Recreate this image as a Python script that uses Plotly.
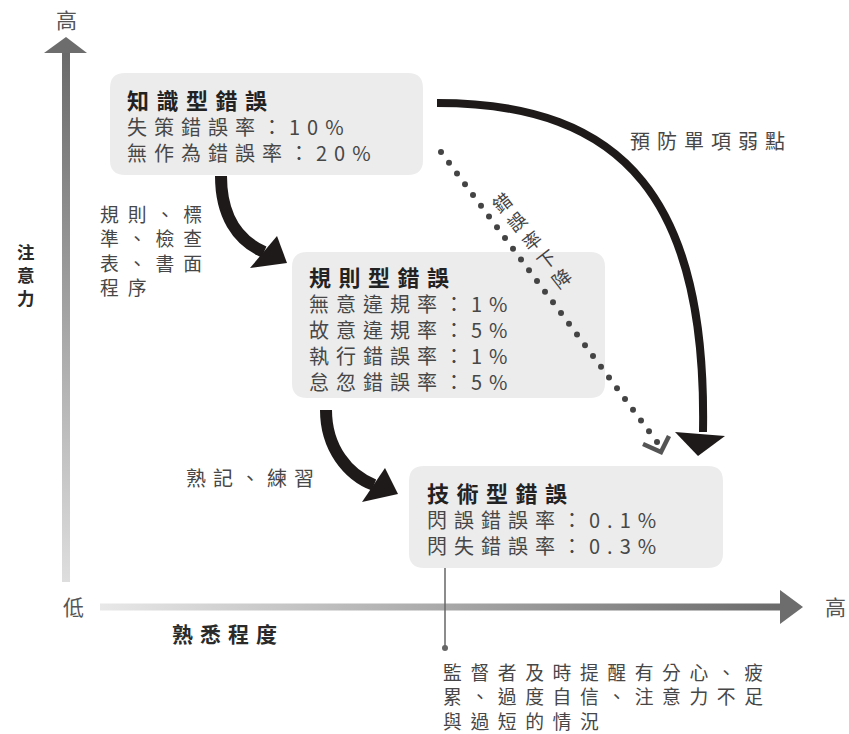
import plotly.graph_objects as go
import numpy as np

W, H = 849, 734
FONT = "Noto Sans CJK TC"

# ---------------- content ----------------
y_axis_label = ["注", "意", "力"]
x_axis_label = "熟悉程度"
low_label = "低"
high_label = "高"

box_titles = ["知識型錯誤", "規則型錯誤", "技術型錯誤"]
box1_lines = ["失策錯誤率：10%", "無作為錯誤率：20%"]
box2_lines = ["無意違規率：1%", "故意違規率：5%", "執行錯誤率：1%", "怠忽錯誤率：5%"]
box3_lines = ["閃誤錯誤率：0.1%", "閃失錯誤率：0.3%"]

rule_lines = ["規則、標", "準、檢查", "表、書面", "程序"]
practice_label = "熟記、練習"
prevent_label = "預防單項弱點"
decline_label = "錯誤率下降"
note_lines = ["監督者及時提醒有分心、疲", "累、過度自信、注意力不足", "與過短的情況"]

# ---------------- layout geometry ----------------
boxes = [(110, 73, 423, 175), (292, 252, 605, 398), (409, 466, 723, 568)]
box_text_x = [125, 307, 425]
box_title_y = [99, 276, 492]

shapes = []
annotations = []
fig = go.Figure()


def rrect(x0, y0, x1, y1, r=15):
    return (f"M{x0+r},{y0} L{x1-r},{y0} Q{x1},{y0} {x1},{y0+r} "
            f"L{x1},{y1-r} Q{x1},{y1} {x1-r},{y1} L{x0+r},{y1} "
            f"Q{x0},{y1} {x0},{y1-r} L{x0},{y0+r} Q{x0},{y0} {x0+r},{y0} Z")


def sp(s, spacing):
    return f'<span style="letter-spacing:{spacing}px">{s}</span>' if spacing else s


def txt(x, y, s, size=20, color="#474747", bold=False, spacing=7,
        anchor="left", angle=0):
    annotations.append(dict(
        x=x, y=y, xref="x", yref="y", text=sp(s, spacing), showarrow=False,
        xanchor=anchor, yanchor="middle", textangle=angle, align="left",
        font=dict(family=FONT, size=size, color=color,
                  weight=700 if bold else 400)))


def block(x, y_first, lines, size=20, color="#474747", bold=False,
          anchor="left", angle=0, cx=None, cy=None):
    pitch = 1.3 * size
    yc = y_first + (len(lines) - 1) * pitch / 2
    annotations.append(dict(
        x=x if cx is None else cx, y=yc if cy is None else cy,
        xref="x", yref="y", text="<br>".join(lines), showarrow=False,
        xanchor=anchor, yanchor="middle", align="left", textangle=angle,
        font=dict(family=FONT, size=size, color=color,
                  weight=700 if bold else 400)))


def poly(path, color):
    shapes.append(dict(type="path", path=path, xref="x", yref="y",
                       fillcolor=color, line=dict(width=0)))


def stroke(path, color, width):
    shapes.append(dict(type="path", path=path, xref="x", yref="y",
                       line=dict(color=color, width=width)))


# boxes
for (x0, y0, x1, y1) in boxes:
    shapes.append(dict(type="path", path=rrect(x0, y0, x1, y1), xref="x",
                       yref="y", fillcolor="#ececec", line=dict(width=0),
                       layer="below"))

all_lines = [box1_lines, box2_lines, box3_lines]
for i in range(3):
    title = (f'<b><span style="font-size:22px;letter-spacing:7.5px;'
             f'color:#222222">{box_titles[i]}</span></b>')
    lines = [title] + [sp(s, 7) for s in all_lines[i]]
    block(box_text_x[i], box_title_y[i], lines)

# axes with gradients
fig.add_trace(go.Scatter(
    x=[62, 70, 70, 62, 62], y=[53, 53, 582, 582, 53], mode="lines",
    fill="toself", line=dict(width=0), hoverinfo="skip", showlegend=False,
    fillgradient=dict(type="vertical", start=53, stop=582,
                      colorscale=[[0, "#6a6a6a"], [1, "#dedede"]])))
fig.add_trace(go.Scatter(
    x=[100, 781, 781, 100, 100], y=[603.5, 603.5, 610.5, 610.5, 603.5],
    mode="lines", fill="toself", line=dict(width=0), hoverinfo="skip",
    showlegend=False,
    fillgradient=dict(type="horizontal", start=100, stop=781,
                      colorscale=[[0, "#e8e8e8"], [1, "#6a6a6a"]])))
poly("M66,37 L44,53 L87,53 Z", "#6d6d6d")
poly("M803,607 L780,590 L780,624 Z", "#6d6d6d")

txt(66, 19, high_label, size=21, color="#555555", spacing=0, anchor="center")
txt(73, 606, low_label, size=21, color="#555555", spacing=0, anchor="center")
txt(835, 606, high_label, size=21, color="#555555", spacing=0, anchor="center")
block(26, 252, y_axis_label, size=17.5, color="#2a2a2a", bold=True,
      anchor="center")
txt(170, 633, x_axis_label, size=21, color="#2a2a2a", bold=True, spacing=7)

# big curved arrow
stroke("M437,103 C626,103 707,202 703,432", "#1e1a1a", 8)
poly("M675,432 L725,436 L698,456 Z", "#1e1a1a")

# small arrows
stroke("M221,176 C221,215 237,240 264,252", "#1e1a1a", 12)
poly("M250,268 L277,236 L287,263 Z", "#1e1a1a")
stroke("M326,410 C326,448 348,475 374,485", "#1e1a1a", 12)
poly("M362,502 L385,468 L398,494 Z", "#1e1a1a")

# dotted line + chevron
n_dots = 28
fig.add_trace(go.Scatter(
    x=np.linspace(441, 657, n_dots), y=np.linspace(152, 442, n_dots),
    mode="markers", marker=dict(size=6, color="#444444"),
    hoverinfo="skip", showlegend=False))
stroke("M643,444 L661,452 L669,436", "#555555", 4.5)

# rotated vertical column of characters along the dotted line
block(0, 0, list(decline_label), size=18.5, color="#444444", anchor="center",
      angle=-38, cx=531, cy=240)

# side labels
block(98, 213, [sp(s, 9) for s in rule_lines], size=18.8)
txt(184, 477, practice_label)
txt(628, 140, prevent_label)

# connector & note
stroke("M445,568 L445,648", "#666666", 1.5)
shapes.append(dict(type="circle", xref="x", yref="y", x0=442, x1=448,
                   y0=645, y1=651, fillcolor="#666666", line=dict(width=0)))
block(441, 672, [sp(s, 8.6) for s in note_lines], size=18.8)

fig.update_layout(
    width=W, height=H, margin=dict(l=0, r=0, t=0, b=0),
    paper_bgcolor="white", plot_bgcolor="white",
    xaxis=dict(range=[0, W], visible=False, fixedrange=True),
    yaxis=dict(range=[H, 0], visible=False, fixedrange=True),
    shapes=shapes, annotations=annotations, showlegend=False)

fig.write_html(
    "out.html",
    config={"displayModeBar": False, "staticPlot": True},
    post_script="document.body.style.margin='0';"
                "document.body.style.overflow='hidden';")
